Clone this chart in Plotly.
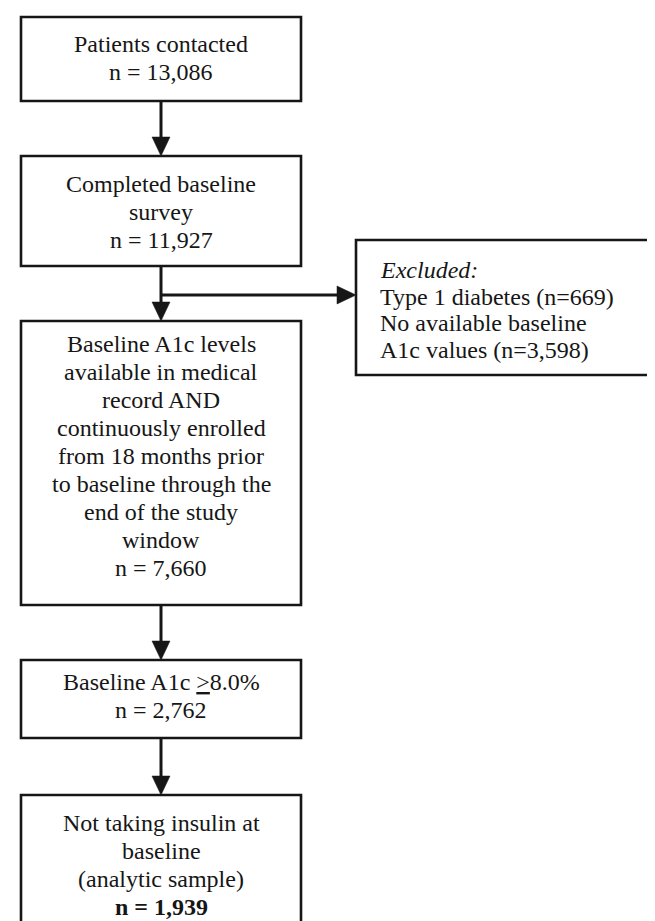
import plotly.graph_objects as go

# ---- content ----
step_labels = [
    ["Patients contacted"],
    ["Completed baseline", "survey"],
    ["Baseline A1c levels", "available in medical", "record AND",
     "continuously enrolled", "from 18 months prior",
     "to baseline through the", "end of the study", "window"],
    ["Baseline A1c <u>&gt;</u>8.0%"],
    ["Not taking insulin at", "baseline", "(analytic sample)"],
]
step_counts = [13086, 11927, 7660, 2762, 1939]
excluded_title = "Excluded:"
excluded_labels = ["Type 1 diabetes", "No available baseline\nA1c values"]
excluded_counts = [669, 3598]

# ---- layout geometry (page pixels) ----
W, H = 655, 921
col_x0, col_x1 = 13, 293
col_cx = (col_x0 + col_x1) / 2
box_y = [(9, 93), (148, 258), (313, 597), (652, 730), (787, 940)]
box_text_top = [27, 28, 23, 22, 28]
excl_box = (348, 652, 232, 367)
branch_y = 287
line_h = 28
font_size = 24
font_family = "Liberation Serif, Times New Roman, serif"
ink = "#161616"
border_w = 2.6
arrow_w = 3
head_w, head_h = 18, 19

fig = go.Figure()
shapes = []
annotations = []

def add_text(x, y, text, anchor="center"):
    annotations.append(dict(
        x=x, y=y, xref="x", yref="y", text=text, showarrow=False,
        xanchor=anchor, yanchor="middle",
        font=dict(family=font_family, size=font_size, color=ink),
    ))

def add_arrow_down(x, y0, y1):
    shapes.append(dict(type="line", x0=x, x1=x, y0=y0, y1=y1 - head_h + 2,
                       line=dict(color=ink, width=arrow_w)))
    shapes.append(dict(type="path",
                       path=f"M {x - head_w/2} {y1 - head_h} L {x + head_w/2} {y1 - head_h} L {x} {y1} Z",
                       fillcolor=ink, line=dict(color=ink, width=0.5)))

def add_arrow_right(y, x0, x1):
    shapes.append(dict(type="line", x0=x0, x1=x1 - head_h + 2, y0=y, y1=y,
                       line=dict(color=ink, width=arrow_w)))
    shapes.append(dict(type="path",
                       path=f"M {x1 - head_h} {y - head_w/2} L {x1 - head_h} {y + head_w/2} L {x1} {y} Z",
                       fillcolor=ink, line=dict(color=ink, width=0.5)))

# main boxes
for i, (labels, n) in enumerate(zip(step_labels, step_counts)):
    y0, y1 = box_y[i]
    shapes.append(dict(type="rect", x0=col_x0, x1=col_x1, y0=y0, y1=y1,
                       line=dict(color=ink, width=border_w), fillcolor="white"))
    count_txt = f"n = {n:,}"
    if i == len(step_labels) - 1:
        count_txt = f"<b>{count_txt}</b>"
    lines = labels + [count_txt]
    first = y0 + box_text_top[i]
    for k, t in enumerate(lines):
        add_text(col_cx, first + k * line_h, t)

# arrows between main boxes
for i in range(len(box_y) - 1):
    add_arrow_down(col_cx, box_y[i][1], box_y[i + 1][0])

# excluded branch
add_arrow_right(branch_y, col_cx, excl_box[0])
ex0, ex1, ey0, ey1 = excl_box
shapes.append(dict(type="rect", x0=ex0, x1=ex1, y0=ey0, y1=ey1,
                   line=dict(color=ink, width=border_w), fillcolor="white"))
ex_lines = [f"<i>{excluded_title}</i>"]
for lab, n in zip(excluded_labels, excluded_counts):
    parts = lab.split("\n")
    parts[-1] = f"{parts[-1]} (n={n:,})"
    ex_lines.extend(parts)
first = ey0 + 30
for k, t in enumerate(ex_lines):
    add_text(ex0 + 22, first + k * 26.5, t, anchor="left")

fig.update_layout(
    width=W, height=H,
    margin=dict(l=0, r=0, t=0, b=0),
    paper_bgcolor="white", plot_bgcolor="white",
    xaxis=dict(range=[0, W], visible=False, fixedrange=True),
    yaxis=dict(range=[H, 0], visible=False, fixedrange=True),
    shapes=shapes, annotations=annotations,
    showlegend=False,
)
fig.write_html("out.html", config={"displayModeBar": False})
